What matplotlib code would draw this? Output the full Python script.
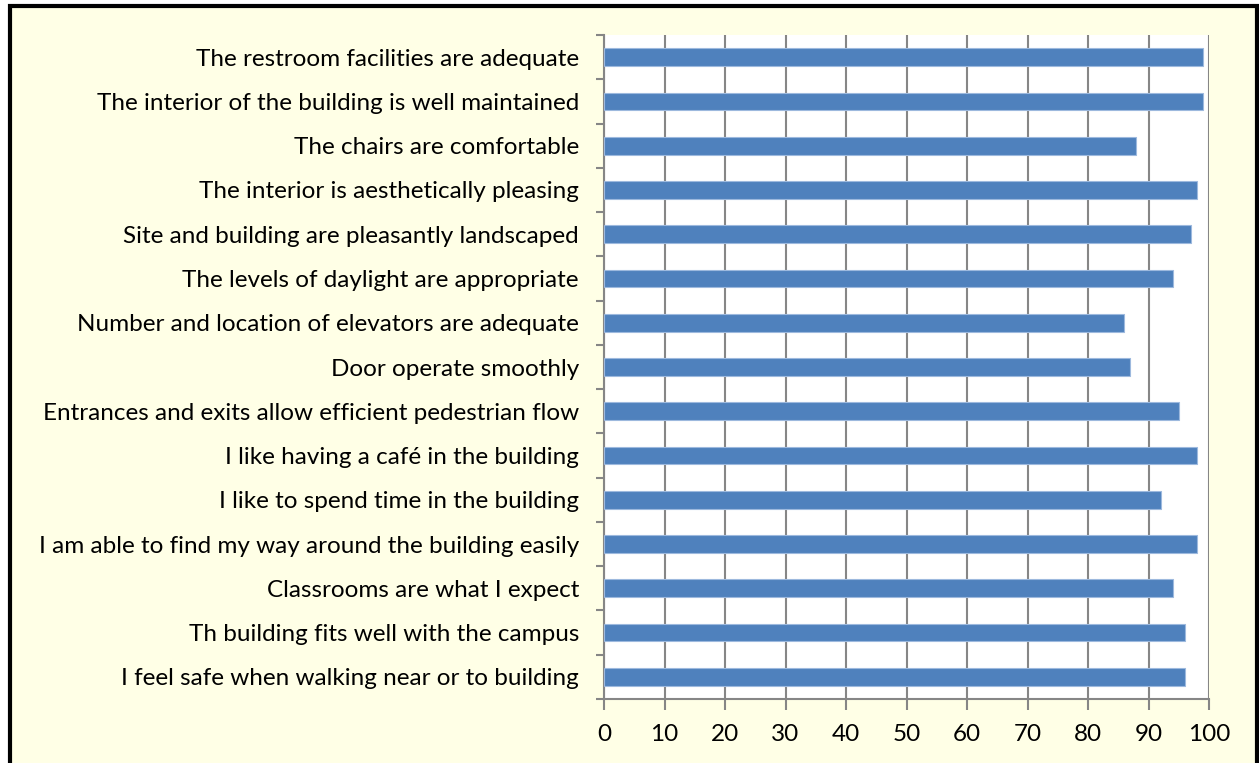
import numpy as np
import matplotlib
matplotlib.use('Agg')
import matplotlib.pyplot as plt
from matplotlib.patches import Rectangle

statements = [
    'The restroom facilities are adequate',
    'The interior of the building is well maintained',
    'The chairs are comfortable',
    'The interior is aesthetically pleasing',
    'Site and building are pleasantly landscaped',
    'The levels of daylight are appropriate',
    'Number and location of elevators are adequate',
    'Door operate smoothly',
    'Entrances and exits allow efficient pedestrian flow',
    'I like having a café in the building',
    'I like to spend time in the building',
    'I am able to find my way around the building easily',
    'Classrooms are what I expect',
    'Th building fits well with the campus',
    'I feel safe when walking near or to building',
]
scores = [99, 99, 88, 98, 97, 94, 86, 87, 95, 98, 92, 98, 94, 96, 96]
xticks = [0, 10, 20, 30, 40, 50, 60, 70, 80, 90, 100]

plt.rcParams['font.family'] = ['Lato', 'DejaVu Sans']
grey = '#868686'

fig = plt.figure(figsize=(12.59, 7.63), dpi=100)
fig.patch.set_facecolor('white')
fig.add_artist(Rectangle((10 / 1259, -0.01), 1247 / 1259, 1 - 6 / 763 + 0.01,
                         transform=fig.transFigure, facecolor='#FFFFE6',
                         edgecolor='black', linewidth=3, zorder=-5))

ax = fig.add_axes([604 / 1259, 1 - 699 / 763, 605 / 1259, 664 / 763])
ax.set_facecolor('white')
y = np.arange(len(statements))
ax.barh(y, scores, height=0.4, color='#4F81BD', edgecolor='#9DB9DE', linewidth=0.8, zorder=3)

ax.set_xlim(0, 100)
ax.set_ylim(len(statements) - 0.5, -0.5)
ax.set_xticks(xticks)
ax.set_xticklabels([str(v) for v in xticks], fontsize=17.5)
ax.set_yticks(y)
ax.set_yticklabels(statements, fontsize=17.5)
ax.set_yticks(np.arange(len(statements) + 1) - 0.5, minor=True)
ax.tick_params(axis='y', which='major', length=0, pad=18)
ax.tick_params(axis='y', which='minor', length=6, color=grey, width=1.5, direction='out')
ax.tick_params(axis='x', length=8, color=grey, width=1.5, direction='out', pad=10)
ax.grid(axis='x', color=grey, linewidth=1.5, zorder=1)

for s in ['top', 'right']:
    ax.spines[s].set_visible(False)
for s in ['left', 'bottom']:
    ax.spines[s].set_color(grey)
    ax.spines[s].set_linewidth(1.5)

fig.savefig('out.png', dpi=100)
